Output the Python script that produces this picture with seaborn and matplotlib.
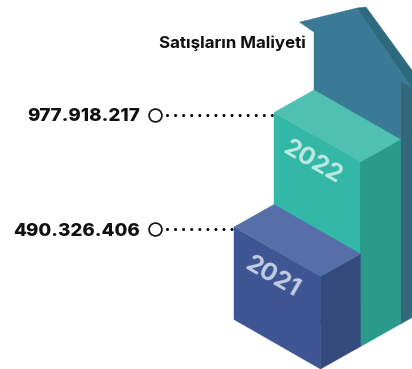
import matplotlib
matplotlib.use("Agg")
import matplotlib.pyplot as plt
import seaborn as sns
import pandas as pd

title = "Satışların Maliyeti"
years = ["2021", "2022"]
values = [490326406, 977918217]
value_labels = ["490.326.406", "977.918.217"]
next_step_value = 1285000000  # estimated height of the unlabelled arrow column

front_colors = ["#3f5695", "#33b8a8"]
top_colors = ["#566fa8", "#4fc0b2"]
side_colors = ["#354a7c", "#2a9a8a"]
year_colors = ["#c3cde3", "#bfe9e3"]

sns.set_theme(style="white")
plt.rcParams["font.family"] = ["Inter", "DejaVu Sans"]

W, H = 412, 369
fig, ax = plt.subplots(figsize=(W / 100, H / 100), dpi=100)
ax.set_position([0, 0, 1, 1])
ax.set_xlim(0, W)
ax.set_ylim(H, 0)
ax.axis("off")

PX_PER_UNIT = 92.5 / values[0]
BASE = (320.5, 369.0)
WIDTH = (-86.5, -49.5)
DEPTH = (40.0, -22.5)


def add(p, q, k=1.0):
    return (p[0] + q[0] * k, p[1] + q[1] * k)


def box(i, value):
    """Corners of an isometric column of the given value."""
    h = value * PX_PER_UNIT
    f = add(BASE, DEPTH, i)
    l, r = add(f, WIDTH), add(f, DEPTH)
    up = (0, -h)
    return dict(f=f, l=l, r=r, ft=add(f, up), lt=add(l, up), rt=add(r, up),
                bt=add(add(l, DEPTH), up))


def poly(points, color, z):
    xs, ys = zip(*points)
    ax.fill(xs, ys, color=color, lw=0.3, ec=color, zorder=z)


# arrow column behind the two bars
b3 = box(2, next_step_value)
poly([b3["lt"], add(b3["lt"], (-14.5, -10)), (357, 8), (430, 114), b3["ft"], b3["f"], b3["l"]], "#3b7a96", 1)
poly([(357, 8), (366, 7), (430, 95), (430, 114)], "#2e6a7d", 2)
poly([b3["ft"], add(b3["ft"], (40, 23)), add(b3["f"], DEPTH), b3["f"]], "#33677a", 3)

# value columns, back to front
for i in [1, 0]:
    b = box(i, values[i])
    z = 10 - i * 5
    poly([b["l"], b["f"], b["ft"], b["lt"]], front_colors[i], z)
    poly([b["f"], b["r"], b["rt"], b["ft"]], side_colors[i], z)
    poly([b["lt"], b["ft"], b["rt"], b["bt"]], top_colors[i], z + 0.5)
    cx = (b["l"][0] + b["f"][0]) / 2
    cy = b["lt"][1] + 49
    ax.text(cx - 4.5, cy + 1, years[i], color=year_colors[i], fontsize=18, fontweight="bold",
            rotation=-30, rotation_mode="anchor", ha="center", va="center", zorder=12)
    # leader with marker and value label
    ly = b["lt"][1] + 2
    ax.plot([167, b["lt"][0]], [ly, ly], color="black", lw=2.2, zorder=4,
            linestyle=(0, (0.01, 2.63)), dash_capstyle="round")
    ax.text(140, ly + 2, value_labels[i], color="#111111", fontsize=13.5, fontweight="heavy",
            ha="right", va="center")

marks = pd.DataFrame({"x": [155, 155], "y": [box(i, values[i])["lt"][1] + 2 for i in range(2)]})
sns.scatterplot(data=marks, x="x", y="y", ax=ax, s=85, facecolor="white", edgecolor="#111111",
                linewidth=1.2, legend=False, zorder=5)
ax.set_xlim(0, W)
ax.set_ylim(H, 0)
ax.axis("off")

ax.text(306, 43, title, color="#111111", fontsize=12.2, fontweight="bold", ha="right", va="center", zorder=20)

fig.savefig("out.png", dpi=100)
